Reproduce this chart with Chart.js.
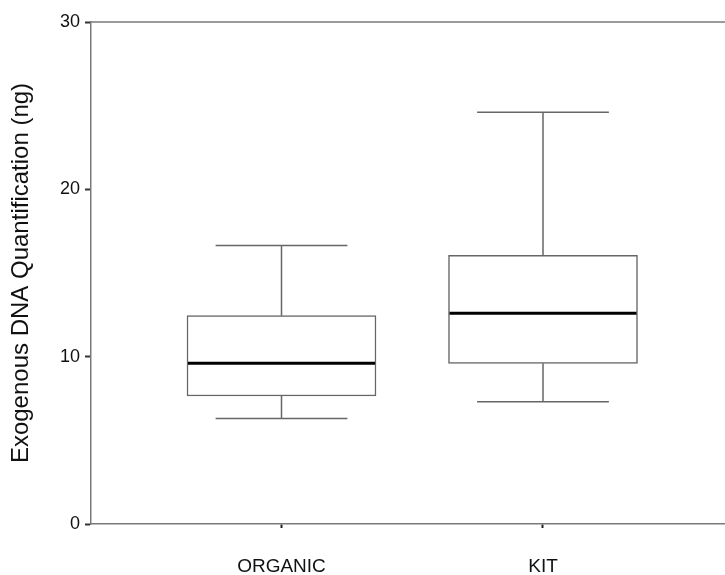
<!DOCTYPE html>
<html><head><meta charset="utf-8">
<script src="https://cdn.jsdelivr.net/npm/chart.js@4.4.1/dist/chart.umd.min.js"></script>
<style>html,body{margin:0;padding:0;background:#fff}#wrap{width:725px;height:575px;position:relative}</style>
</head><body><div id="wrap"><canvas id="c"></canvas></div>
<script>
const categories = ['ORGANIC', 'KIT'];
const positions = [1, 2];
const whiskerLow = [6.3, 7.3];
const q1 = [7.65, 9.6];
const median = [9.6, 12.6];
const q3 = [12.45, 16.05];
const whiskerHigh = [16.65, 24.6];
const yTicks = [0, 10, 20, 30];
const yTitle = 'Exogenous DNA Quantification (ng)';

const AXIS = '#7a7a7a';
const BOXLINE = '#666';
const TEXT = '#111';

const boxPlugin = {
  id: 'boxWhiskers',
  afterDatasetsDraw(chart) {
    const { ctx, scales: { x, y }, chartArea } = chart;
    const meta = chart.getDatasetMeta(0);
    ctx.save();
    positions.forEach((p, i) => {
      const cx = x.getPixelForValue(p);
      const capL = x.getPixelForValue(p - 0.252);
      const capR = x.getPixelForValue(p + 0.252);
      const yHi = y.getPixelForValue(whiskerHigh[i]);
      const yLo = y.getPixelForValue(whiskerLow[i]);
      ctx.strokeStyle = BOXLINE;
      ctx.lineWidth = 1.5;
      ctx.beginPath();
      ctx.moveTo(cx, y.getPixelForValue(q3[i])); ctx.lineTo(cx, yHi);
      ctx.moveTo(cx, y.getPixelForValue(q1[i])); ctx.lineTo(cx, yLo);
      ctx.moveTo(capL, yHi); ctx.lineTo(capR, yHi);
      ctx.moveTo(capL, yLo); ctx.lineTo(capR, yLo);
      ctx.stroke();
      const bar = meta.data[i];
      const ym = y.getPixelForValue(median[i]);
      ctx.strokeStyle = '#000';
      ctx.lineWidth = 3;
      ctx.beginPath();
      ctx.moveTo(bar.x - bar.width / 2 + 1, ym);
      ctx.lineTo(bar.x + bar.width / 2 - 1, ym);
      ctx.stroke();
    });
    ctx.strokeStyle = AXIS;
    ctx.lineWidth = 1.5;
    ctx.beginPath();
    ctx.moveTo(chartArea.left, chartArea.top);
    ctx.lineTo(chartArea.right, chartArea.top);
    ctx.stroke();
    ctx.restore();
  }
};

new Chart(document.getElementById('c'), {
  type: 'bar',
  data: {
    datasets: [{
      data: positions.map((p, i) => ({ x: p, y: [q1[i], q3[i]] })),
      backgroundColor: '#fff',
      borderColor: BOXLINE,
      borderWidth: 1.5,
      borderSkipped: false,
      barThickness: 189
    }]
  },
  options: {
    responsive: true,
    maintainAspectRatio: false,
    animation: false,
    devicePixelRatio: 1,
    layout: { padding: { top: 22, left: 0, right: 0, bottom: 0 } },
    plugins: { legend: { display: false }, tooltip: { enabled: false } },
    scales: {
      x: {
        type: 'linear',
        min: 0.2715,
        max: 2.696,
        offset: false,
        afterBuildTicks: s => { s.ticks = positions.map(v => ({ value: v })); },
        afterFit: s => { s.height = 51; },
        ticks: {
          callback: v => categories[positions.indexOf(v)] ?? '',
          color: TEXT,
          font: { family: 'Liberation Sans', size: 19 },
          padding: 27,
          maxRotation: 0,
          autoSkip: false
        },
        grid: { drawOnChartArea: false, drawTicks: true, tickLength: 4, tickColor: '#222', tickWidth: 2, offset: false },
        border: { display: true, color: AXIS, width: 1.5 }
      },
      y: {
        min: 0,
        max: 30,
        afterBuildTicks: s => { s.ticks = yTicks.map(v => ({ value: v })); },
        afterFit: s => { s.width = 91; },
        ticks: {
          color: TEXT,
          font: { family: 'Liberation Sans', size: 18 },
          padding: 5
        },
        grid: { drawOnChartArea: false, drawTicks: true, tickLength: 6, tickColor: '#333', tickWidth: 2 },
        border: { display: true, color: AXIS, width: 1.5 },
        title: {
          display: true,
          text: yTitle,
          color: TEXT,
          font: { family: 'Liberation Sans', size: 24 },
          padding: { top: 7, bottom: 0 }
        }
      }
    }
  },
  plugins: [boxPlugin]
});
</script></body></html>
